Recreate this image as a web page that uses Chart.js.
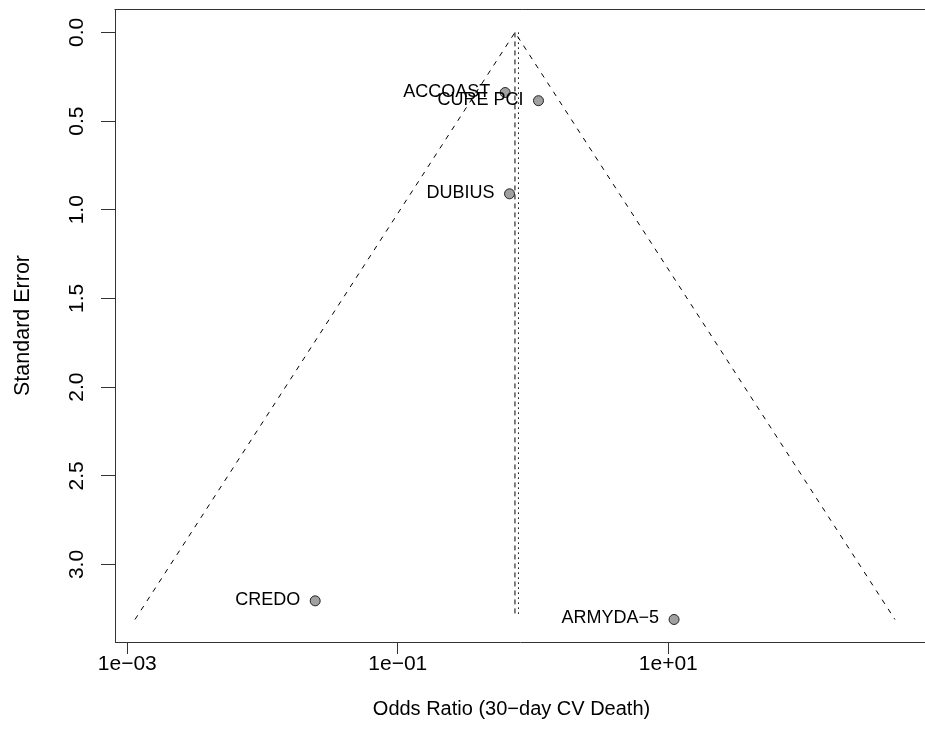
<!DOCTYPE html>
<html><head><meta charset="utf-8">
<script src="https://cdn.jsdelivr.net/npm/chart.js@4.4.1/dist/chart.umd.min.js"></script>
<style>html,body{margin:0;padding:0;background:#fff;overflow:hidden}#wrap{width:925px;height:752px;overflow:hidden}</style>
</head><body><div id="wrap"><canvas id="c" width="931" height="752"></canvas></div>
<script>
const studies = ["ACCOAST", "CURE PCI", "DUBIUS", "CREDO", "ARMYDA−5"];
const oddsRatios = [0.622, 1.097, 0.670, 0.0245, 11.03];
const standardErrors = [0.339, 0.385, 0.910, 3.205, 3.31];
const funnelX = [0.00114, 0.735, 474];
const funnelY = [3.31, 0, 3.31];
const fixedEffect = 0.735;
const randomEffect = 0.78;
const refLineSE = [0, 3.29];
const xTickValues = [0.001, 0.1, 10];
const xTickLabels = ["1e−03", "1e−01", "1e+01"];
const yTickValues = [0, 0.5, 1, 1.5, 2, 2.5, 3];
const yTickLabels = ["0.0", "0.5", "1.0", "1.5", "2.0", "2.5", "3.0"];
const xTitle = "Odds Ratio (30−day CV Death)";
const yTitle = "Standard Error";

const FONT = '"Liberation Sans", Arial, sans-serif';

const decor = {
  id: 'decor',
  afterDraw(chart) {
    const ctx = chart.ctx, a = chart.chartArea;
    ctx.save();
    ctx.strokeStyle = '#333'; ctx.lineWidth = 1;
    ctx.beginPath(); ctx.moveTo(a.left - 0.5, Math.round(a.top) + 0.5); ctx.lineTo(chart.width, Math.round(a.top) + 0.5); ctx.stroke();
    const ys = chart.scales.y;
    ctx.fillStyle = '#000';
    ctx.font = '21px ' + FONT;
    ctx.textAlign = 'center'; ctx.textBaseline = 'alphabetic';
    yTickValues.forEach((v, i) => {
      const py = ys.getPixelForValue(v);
      ctx.save(); ctx.translate(82.5, py); ctx.rotate(-Math.PI / 2);
      ctx.fillText(yTickLabels[i], 0, 0); ctx.restore();
    });
    ctx.font = '20px ' + FONT;
    ctx.textBaseline = 'middle';
    ctx.fillText(xTitle, 511.5, 709);
    const meta = chart.getDatasetMeta(0);
    ctx.font = '18px ' + FONT;
    ctx.textAlign = 'right'; ctx.textBaseline = 'middle';
    meta.data.forEach((pt, i) => {
      ctx.fillText(studies[i], pt.x - 15, pt.y - 1);
    });
    ctx.restore();
  }
};

new Chart(document.getElementById('c'), {
  type: 'scatter',
  data: {
    datasets: [
      { label: 'Studies', data: oddsRatios.map((x, i) => ({ x: x, y: standardErrors[i] })),
        pointRadius: 5, pointHoverRadius: 5, backgroundColor: '#a0a0a0', borderColor: '#222', borderWidth: 1, showLine: false },
      { label: 'Funnel', data: funnelX.map((x, i) => ({ x: x, y: funnelY[i] })),
        showLine: true, pointRadius: 0, borderColor: '#000', borderWidth: 1, borderDash: [5, 6], fill: false, tension: 0 },
      { label: 'Fixed', data: refLineSE.map(y => ({ x: fixedEffect, y: y })),
        showLine: true, pointRadius: 0, borderColor: '#000', borderWidth: 1, borderDash: [5, 4], fill: false },
      { label: 'Random', data: refLineSE.map(y => ({ x: randomEffect, y: y })),
        showLine: true, pointRadius: 0, borderColor: '#000', borderWidth: 1, borderDash: [1.5, 3.5], fill: false }
    ]
  },
  options: {
    responsive: false, animation: false, devicePixelRatio: 1,
    layout: { padding: { top: 9, right: 0, bottom: 0, left: 0 } },
    plugins: { legend: { display: false }, tooltip: { enabled: false } },
    scales: {
      x: {
        type: 'logarithmic', min: 8.11e-4, max: 790.7,
        afterBuildTicks: s => { s.ticks = xTickValues.map(v => ({ value: v })); },
        afterFit: s => { s.height = 110; s.paddingRight = 0; s.paddingLeft = 0; },
        ticks: { callback: (v, i) => xTickLabels[i], autoSkip: false, maxRotation: 0, minRotation: 0,
          color: '#000', font: { family: FONT, size: 21 }, padding: -2 },
        grid: { display: true, drawOnChartArea: false, drawTicks: true, tickLength: 12, tickColor: '#333', tickWidth: 1 },
        border: { display: true, color: '#333', width: 1 },
        title: { display: false }
      },
      y: {
        type: 'linear', reverse: true, min: -0.132, max: 3.437,
        afterBuildTicks: s => { s.ticks = yTickValues.map(v => ({ value: v })); },
        afterFit: s => { s.width = 115; },
        ticks: { display: false },
        grid: { display: true, drawOnChartArea: false, drawTicks: true, tickLength: 14, tickColor: '#333', tickWidth: 1 },
        border: { display: true, color: '#333', width: 1 },
        title: { display: true, text: yTitle, color: '#000', font: { family: FONT, size: 21.5 }, padding: { top: 10, bottom: 0 } }
      }
    }
  },
  plugins: [decor]
});
</script></body></html>
